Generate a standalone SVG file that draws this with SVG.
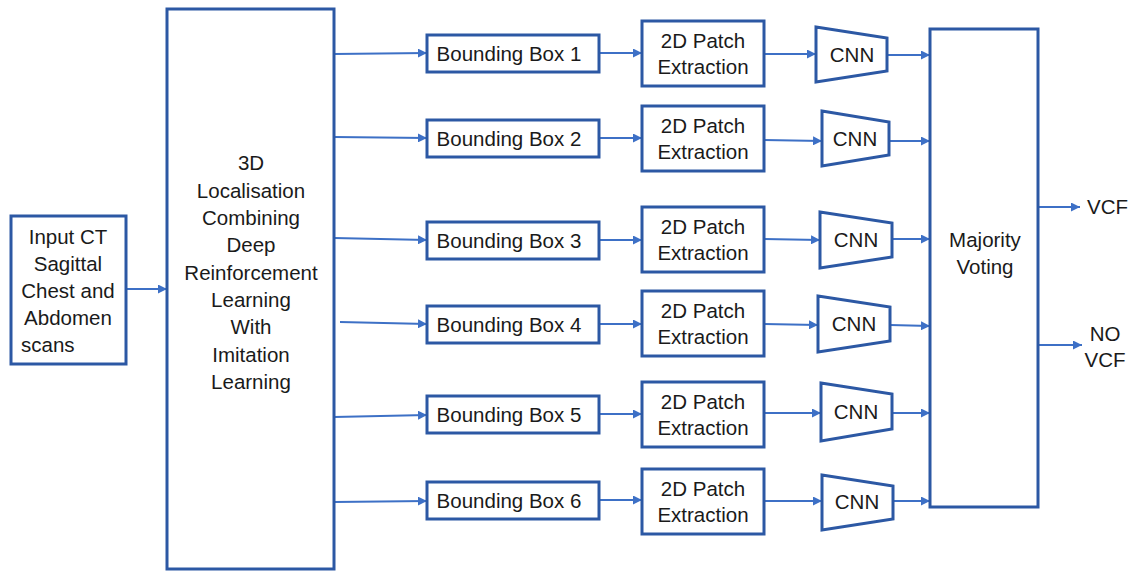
<svg xmlns="http://www.w3.org/2000/svg" width="1128" height="571" viewBox="0 0 1128 571">
  <style>
    .box { fill: #ffffff; stroke: #2c58a4; stroke-width: 3; }
    .lbl { font-family: "Liberation Sans", Arial, sans-serif; font-size: 20.5px; fill: #1a1a1a; text-anchor: middle; }
    .conn line { stroke: #3d70c6; stroke-width: 2; marker-end: url(#arrow); }
  </style>
  <defs>
    <marker id="arrow" viewBox="0 0 10 10" refX="10" refY="5" markerWidth="4.5" markerHeight="4.5" orient="auto" markerUnits="strokeWidth">
      <path d="M0,0 L10,5 L0,10 z" fill="#3d70c6"/>
    </marker>
  </defs>

  <rect width="1128" height="571" fill="#ffffff"/>

  <!-- connectors -->
  <g id="connectors" class="conn">
    <line x1="126" y1="289" x2="167" y2="289"/>
    <!-- localisation to bounding boxes -->
    <line x1="334" y1="54" x2="427" y2="53"/>
    <line x1="334" y1="137" x2="427" y2="138"/>
    <line x1="334" y1="238" x2="427" y2="240"/>
    <line x1="340" y1="322" x2="427" y2="324"/>
    <line x1="334" y1="417" x2="427" y2="415"/>
    <line x1="334" y1="502" x2="427" y2="501"/>
    <!-- bounding boxes to patch extraction -->
    <line x1="599" y1="53" x2="642" y2="53"/>
    <line x1="599" y1="138" x2="642" y2="138"/>
    <line x1="599" y1="240" x2="642" y2="240"/>
    <line x1="599" y1="324" x2="642" y2="324"/>
    <line x1="599" y1="414" x2="642" y2="414"/>
    <line x1="599" y1="500" x2="642" y2="500"/>
    <!-- patch extraction to CNN -->
    <line x1="764" y1="54" x2="816" y2="54"/>
    <line x1="764" y1="140" x2="822" y2="141"/>
    <line x1="764" y1="239" x2="820" y2="240"/>
    <line x1="764" y1="324" x2="818" y2="325"/>
    <line x1="764" y1="413" x2="821" y2="413"/>
    <line x1="764" y1="501" x2="822" y2="501"/>
    <!-- CNN to majority voting -->
    <line x1="887" y1="55" x2="930" y2="55"/>
    <line x1="889" y1="141" x2="930" y2="141"/>
    <line x1="892" y1="239" x2="930" y2="239"/>
    <line x1="890" y1="325" x2="930" y2="326"/>
    <line x1="892" y1="413" x2="930" y2="413"/>
    <line x1="893" y1="501" x2="930" y2="501"/>
    <!-- outputs -->
    <line x1="1038" y1="207" x2="1080" y2="207"/>
    <line x1="1038" y1="345" x2="1082" y2="345"/>
  </g>

  <g id="input">
    <rect class="box" x="11" y="216" width="115" height="148"/>
    <text class="lbl" x="68" y="244">Input CT</text>
    <text class="lbl" x="68" y="271">Sagittal</text>
    <text class="lbl" x="68" y="298">Chest and</text>
    <text class="lbl" x="68" y="325">Abdomen</text>
    <text class="lbl" x="21" y="352" style="text-anchor:start">scans</text>
  </g>

  <g id="localisation">
    <rect class="box" x="167" y="9" width="167" height="560"/>
    <text class="lbl" x="251" y="170">3D</text>
    <text class="lbl" x="251" y="198">Localisation</text>
    <text class="lbl" x="251" y="225">Combining</text>
    <text class="lbl" x="251" y="252">Deep</text>
    <text class="lbl" x="251" y="280">Reinforcement</text>
    <text class="lbl" x="251" y="307">Learning</text>
    <text class="lbl" x="251" y="334">With</text>
    <text class="lbl" x="251" y="362">Imitation</text>
    <text class="lbl" x="251" y="389">Learning</text>
  </g>

  <g id="bbox1"><rect class="box" x="427" y="35" width="172" height="37"/><text class="lbl" x="509" y="61">Bounding Box 1</text></g>
  <g id="bbox2"><rect class="box" x="427" y="120" width="172" height="37"/><text class="lbl" x="509" y="146">Bounding Box 2</text></g>
  <g id="bbox3"><rect class="box" x="427" y="222" width="172" height="37"/><text class="lbl" x="509" y="248">Bounding Box 3</text></g>
  <g id="bbox4"><rect class="box" x="427" y="306" width="172" height="37"/><text class="lbl" x="509" y="332">Bounding Box 4</text></g>
  <g id="bbox5"><rect class="box" x="427" y="396" width="172" height="37"/><text class="lbl" x="509" y="422">Bounding Box 5</text></g>
  <g id="bbox6"><rect class="box" x="427" y="482" width="172" height="37"/><text class="lbl" x="509" y="508">Bounding Box 6</text></g>

  <g id="patch1"><rect class="box" x="642" y="21" width="122" height="65"/><text class="lbl" x="703" y="48">2D Patch</text><text class="lbl" x="703" y="74">Extraction</text></g>
  <g id="patch2"><rect class="box" x="642" y="106" width="122" height="65"/><text class="lbl" x="703" y="133">2D Patch</text><text class="lbl" x="703" y="159">Extraction</text></g>
  <g id="patch3"><rect class="box" x="642" y="207" width="122" height="65"/><text class="lbl" x="703" y="234">2D Patch</text><text class="lbl" x="703" y="260">Extraction</text></g>
  <g id="patch4"><rect class="box" x="642" y="291" width="122" height="65"/><text class="lbl" x="703" y="318">2D Patch</text><text class="lbl" x="703" y="344">Extraction</text></g>
  <g id="patch5"><rect class="box" x="642" y="382" width="122" height="65"/><text class="lbl" x="703" y="409">2D Patch</text><text class="lbl" x="703" y="435">Extraction</text></g>
  <g id="patch6"><rect class="box" x="642" y="469" width="122" height="65"/><text class="lbl" x="703" y="496">2D Patch</text><text class="lbl" x="703" y="522">Extraction</text></g>

  <g id="cnn1"><polygon class="box" points="816,27 887,38 887,71 816,82"/><text class="lbl" x="852" y="62">CNN</text></g>
  <g id="cnn2"><polygon class="box" points="822,111 889,122 889,155 822,166"/><text class="lbl" x="855" y="146">CNN</text></g>
  <g id="cnn3"><polygon class="box" points="820,212 892,223 892,257 820,268"/><text class="lbl" x="856" y="247">CNN</text></g>
  <g id="cnn4"><polygon class="box" points="818,296 890,307 890,341 818,352"/><text class="lbl" x="854" y="331">CNN</text></g>
  <g id="cnn5"><polygon class="box" points="821,383 892,394 892,429 821,441"/><text class="lbl" x="856" y="419">CNN</text></g>
  <g id="cnn6"><polygon class="box" points="822,475 893,486 893,519 822,530"/><text class="lbl" x="857" y="509">CNN</text></g>

  <g id="voting">
    <rect class="box" x="930" y="29" width="108" height="478"/>
    <text class="lbl" x="985" y="247">Majority</text>
    <text class="lbl" x="985" y="274">Voting</text>
  </g>

  <g id="out-vcf"><text class="lbl" x="1087" y="214" style="text-anchor:start">VCF</text></g>
  <g id="out-novcf">
    <text class="lbl" x="1105" y="341">NO</text>
    <text class="lbl" x="1105" y="367">VCF</text>
  </g>
</svg>
